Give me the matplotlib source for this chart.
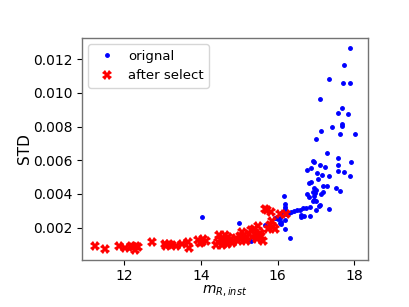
import matplotlib
matplotlib.use("Agg")
import matplotlib.pyplot as plt

# blue points (all stars), visible ones
orig_mag = [
    17.88, 17.72, 17.33, 17.70, 17.88, 17.10, 17.68, 17.57, 17.84, 17.68,
    17.68, 17.42, 17.13, 17.63, 18.02, 17.00, 17.28, 16.91, 16.96, 17.57,
    17.91, 16.76, 16.87, 17.11, 17.24, 17.57, 17.57, 17.74, 17.03, 17.16,
    17.34, 17.90, 17.05, 16.82, 16.87, 17.19, 17.29, 16.95, 16.99, 16.93,
    16.97, 17.53, 17.63, 17.18, 17.13, 16.77, 16.81, 16.16, 16.95, 16.95,
    16.99, 16.91, 17.10, 17.07, 16.18, 16.85, 17.33, 17.00, 16.73, 16.66,
    16.20, 16.18, 16.57, 16.50, 16.42, 16.36, 16.30, 16.60, 16.62, 16.68,
    16.85, 16.25, 16.21, 16.10, 16.06, 15.98, 15.92, 16.02, 16.10, 16.05,
    16.08, 16.20, 16.18, 16.32, 14.03, 14.98, 15.66, 15.31,
]
orig_std = [
    0.01267, 0.01167, 0.01084, 0.01059, 0.01061, 0.00961, 0.00910, 0.00880, 0.00873, 0.00818,
    0.00804, 0.00796, 0.00776, 0.00753, 0.00755, 0.00729, 0.00643, 0.00594, 0.00588, 0.00616,
    0.00588, 0.00543, 0.00557, 0.00569, 0.00559, 0.00569, 0.00537, 0.00533, 0.00524, 0.00510,
    0.00504, 0.00504, 0.00486, 0.00465, 0.00469, 0.00449, 0.00445, 0.00433, 0.00422, 0.00414,
    0.00406, 0.00433, 0.00420, 0.00410, 0.00400, 0.00400, 0.00384, 0.00390, 0.00386, 0.00367,
    0.00357, 0.00357, 0.00333, 0.00331, 0.00339, 0.00324, 0.00308, 0.00304, 0.00318, 0.00318,
    0.00324, 0.00308, 0.00304, 0.00306, 0.00300, 0.00296, 0.00290, 0.00276, 0.00265, 0.00269,
    0.00269, 0.00290, 0.00280, 0.00290, 0.00260, 0.00258, 0.00255, 0.00252, 0.00233, 0.00230,
    0.00220, 0.00245, 0.00190, 0.00137, 0.00265, 0.00227, 0.00218, 0.00120,
]

# red points (kept after selection)
sel_mag = [
    11.23, 11.49, 11.86, 12.03, 12.17, 12.22, 12.27, 12.30, 12.36, 12.73,
    13.07, 13.10, 13.17, 13.25, 13.36, 13.50, 13.65, 13.70, 13.93, 13.97,
    14.02, 14.05, 14.12, 14.40, 14.45, 14.47, 14.52, 14.55, 14.58, 14.60,
    14.63, 14.65, 14.68, 14.70, 14.72, 14.77, 14.80, 14.92, 14.97, 15.02,
    15.05, 15.08, 15.12, 15.15, 15.18, 15.25, 15.30, 15.33, 15.38, 15.42,
    15.45, 15.48, 15.53, 15.57, 15.62, 15.67, 15.72, 15.75, 15.80, 15.83,
    15.86, 15.88, 15.92, 16.05, 16.22,
]
sel_std = [
    0.00094, 0.00073, 0.00092, 0.00080, 0.00093, 0.00083, 0.00068, 0.00090, 0.00086, 0.00115,
    0.00104, 0.00092, 0.00106, 0.00098, 0.00090, 0.00106, 0.00117, 0.00080, 0.00125, 0.00108,
    0.00115, 0.00130, 0.00118, 0.00100, 0.00115, 0.00158, 0.00128, 0.00098, 0.00140, 0.00112,
    0.00158, 0.00125, 0.00105, 0.00145, 0.00118, 0.00135, 0.00110, 0.00140, 0.00120, 0.00148,
    0.00130, 0.00172, 0.00155, 0.00135, 0.00118, 0.00160, 0.00185, 0.00142, 0.00190, 0.00165,
    0.00130, 0.00210, 0.00170, 0.00148, 0.00120, 0.00310, 0.00305, 0.00195, 0.00215, 0.00295,
    0.00240, 0.00205, 0.00190, 0.00280, 0.00280,
]

fig, ax = plt.subplots(figsize=(4.09, 3.07), dpi=100)
fig.subplots_adjust(left=0.2, right=0.9, bottom=0.153, top=0.877)

ax.plot(orig_mag, orig_std, ".", color="blue", markersize=5, label="orignal")
ax.plot(sel_mag, sel_std, "X", color="red", markersize=6.5, markeredgewidth=0, label="after select")

ax.set_xticks([12, 14, 16, 18])
ax.set_yticks([0.002, 0.004, 0.006, 0.008, 0.010, 0.012])
ax.tick_params(labelsize=10, pad=3)
ax.set_xlabel("$m_{R,inst}$", fontsize=10, labelpad=1)
ax.set_ylabel("STD", fontsize=11, labelpad=1)
for spine in ax.spines.values():
    spine.set_color("0.45")
    spine.set_linewidth(1.0)

ax.legend(loc="upper left", fontsize=9.5, handletextpad=0.6)

fig.savefig("out.png", dpi=100)
